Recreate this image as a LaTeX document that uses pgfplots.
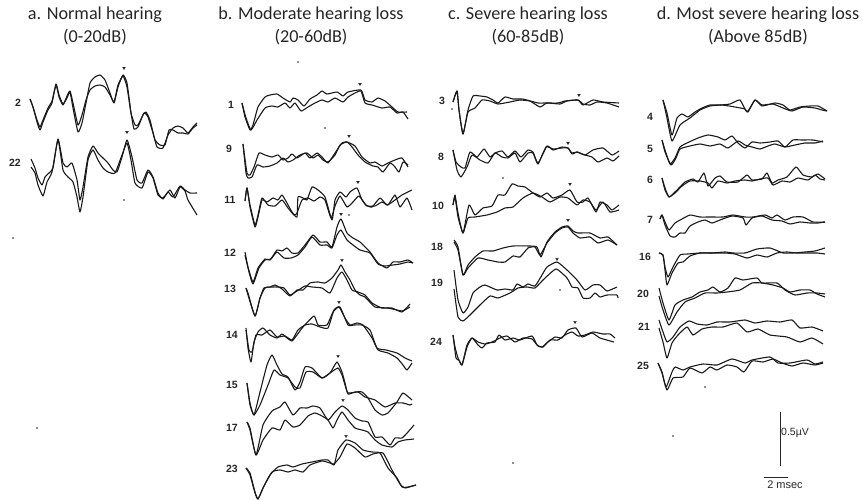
\documentclass[border=0pt]{standalone}
\usepackage{pgfplots}
\pgfplotsset{compat=1.18}
\usepackage{fontspec}
\setmainfont{Carlito}
\newfontfamily\numfont{Liberation Sans}
\tikzset{
  head/.style={font=\fontsize{18.2}{20}\selectfont, text=black!85},
  num/.style={font=\numfont\fontsize{10.5}{12}\selectfont\bfseries, text=black!85},
}
\pgfplotsset{
  trace/.style={black!90, line width=1.1pt, line join=round, no markers, smooth, tension=0.3},
}
\newcommand{\tr}[1]{\addplot[trace] coordinates {#1};}
\begin{document}
\begin{tikzpicture}
\path[use as bounding box] (0,0) rectangle (863pt,500pt);
\begin{axis}[at={(0,0)}, anchor=south west, scale only axis, width=863pt, height=500pt,
  xmin=0, xmax=863, ymin=0, ymax=500, y dir=reverse, hide axis, clip=true]
% a. normal
\tr{(30,99)(33,107)(37,122)(40,130)(43,122)(48,110)(52,103)(56,84)(59,95)(63,104)(67,98)(70,92)(73,108)(78,132)(82,123)(86,103)(90,83)(95,77)(100,75)(105,80)(110,93)(114,103)(118,87)(123,75)(127,83)(131,113)(134,129)(138,127)(144,113)(148,117)(153,133)(157,147)(163,148)(168,135)(173,128)(178,126)(183,128)(188,133)(193,127)(197,123)}
\tr{(30,99)(33,107)(37,120)(40,127)(43,120)(48,108)(52,101)(56,85)(59,97)(63,105)(67,96)(70,91)(73,103)(78,125)(82,115)(86,100)(90,90)(95,86)(100,85)(105,87)(110,95)(114,102)(118,85)(123,76)(127,87)(131,113)(135,125)(138,125)(143,115)(146,112)(150,120)(155,140)(160,145)(165,145)(169,130)(173,130)(178,133)(183,133)(188,134)(193,128)(197,125)}
\tr{(31,159)(35,168)(38,178)(42,185)(45,177)(49,173)(53,168)(58,139)(63,163)(67,167)(72,163)(77,180)(80,200)(83,187)(88,157)(93,146)(98,153)(103,158)(108,163)(113,170)(117,172)(122,157)(127,140)(132,157)(137,180)(142,183)(148,170)(153,177)(158,193)(163,199)(168,192)(173,197)(180,186)(185,190)(190,193)(197,193)}
\tr{(31,167)(35,173)(38,185)(43,196)(47,182)(52,172)(58,140)(63,170)(68,177)(73,182)(77,197)(80,212)(83,197)(88,160)(93,150)(98,160)(103,168)(108,172)(115,173)(122,155)(127,143)(131,160)(135,183)(142,188)(148,172)(153,178)(158,195)(163,198)(170,190)(175,198)(180,187)(185,191)(188,200)(197,215)}
\addplot[only marks, mark=triangle*, mark size=1.5pt, mark options={rotate=180, black!85, fill=black!85}] coordinates {(124,68)(127,132)(360,84)(349,136)(358,182)(341,214)(342,260)(339,302)(338,356)(343,400)(346,436)(579,95)(568,143)(570,184)(568,220)(557,259)(575,322)};
\addplot[only marks, mark=*, mark size=0.6pt, mark options={black!70}] coordinates {(124,200)(13,238)(298,62)(325,128)(349,215)(452,109)(503,178)(560,290)(705,387)(673,436)(513,463)(37,428)};
% b. moderate
\tr{(242,103)(245,117)(250,130)(253,125)(258,107)(265,97)(270,95)(277,94)(283,98)(290,102)(293,98)(298,100)(304,106)(310,99)(317,95)(322,91)(327,94)(337,92)(343,96)(348,92)(361,90)(365,100)(372,102)(378,98)(385,101)(392,107)(398,112)(407,112)}
\tr{(242,103)(246,118)(251,130)(257,120)(265,108)(272,106)(278,107)(285,103)(290,108)(295,103)(301,111)(308,107)(315,103)(322,100)(328,102)(335,98)(343,102)(348,97)(355,93)(361,91)(365,103)(372,105)(382,108)(390,107)(397,113)(403,112)(408,119)}
\tr{(243,144)(247,173)(250,175)(254,167)(259,153)(265,155)(272,157)(278,155)(283,160)(288,158)(292,154)(297,158)(305,153)(310,158)(317,153)(322,157)(328,163)(335,153)(342,143)(347,142)(355,146)(362,157)(370,163)(375,162)(382,166)(388,163)(395,160)(402,158)(408,167)}
\tr{(243,144)(246,173)(248,178)(252,177)(257,165)(263,167)(270,166)(277,163)(283,158)(288,162)(293,160)(300,155)(307,153)(313,158)(318,155)(323,160)(328,162)(335,155)(340,145)(347,142)(352,147)(358,155)(365,162)(373,166)(378,167)(383,172)(390,163)(395,167)(399,172)(403,162)(408,165)}
\tr{(245,201)(247,188)(250,207)(255,227)(258,217)(262,200)(267,202)(273,198)(278,200)(282,195)(287,203)(292,212)(297,217)(298,197)(303,198)(307,200)(312,187)(318,190)(325,197)(332,220)(335,200)(340,192)(346,197)(350,192)(357,188)(362,200)(367,206)(375,206)(382,202)(388,205)(395,195)(400,207)(407,198)(412,210)}
\tr{(245,201)(247,188)(250,205)(255,225)(258,215)(262,198)(268,205)(275,206)(282,200)(288,208)(294,215)(297,213)(302,200)(308,198)(314,201)(320,197)(325,200)(331,218)(335,206)(340,196)(347,207)(353,202)(359,196)(366,205)(372,207)(380,198)(387,205)(395,200)(402,195)(412,190)}
\tr{(245,252)(248,267)(253,282)(258,268)(265,259)(270,260)(277,250)(282,251)(287,248)(292,253)(298,253)(305,245)(313,235)(320,242)(327,242)(332,247)(337,227)(341,219)(347,233)(353,238)(360,242)(370,252)(378,263)(387,268)(393,262)(400,262)(408,260)(413,263)}
\tr{(245,255)(249,272)(253,284)(259,268)(265,260)(271,259)(277,252)(284,258)(291,258)(298,255)(305,247)(312,237)(320,245)(327,245)(332,248)(337,235)(341,230)(347,240)(353,245)(360,250)(370,253)(378,264)(385,266)(393,265)(400,264)(408,262)(413,263)}
\tr{(246,288)(248,293)(255,316)(260,298)(264,288)(270,287)(275,285)(282,289)(290,296)(297,290)(303,290)(310,283)(318,282)(325,283)(332,278)(338,270)(341,265)(345,272)(350,280)(355,290)(360,295)(365,297)(375,307)(388,308)(402,311)(410,307)}
\tr{(246,288)(248,295)(255,316)(260,298)(265,288)(272,287)(278,287)(284,288)(290,295)(297,291)(305,286)(312,287)(322,288)(330,293)(337,278)(342,272)(347,280)(352,290)(358,292)(365,295)(372,303)(382,308)(392,308)(402,312)(410,304)}
\tr{(246,328)(248,348)(251,362)(254,342)(258,332)(263,328)(270,335)(277,338)(282,334)(287,338)(292,341)(297,335)(303,327)(314,316)(318,325)(327,325)(333,312)(339,307)(345,318)(350,325)(357,323)(363,325)(372,338)(378,350)(388,353)(397,358)(403,365)(407,370)(412,363)}
\tr{(246,330)(249,350)(252,352)(256,335)(262,335)(270,330)(277,337)(285,336)(292,340)(298,330)(305,325)(312,324)(320,327)(328,328)(334,310)(340,307)(348,325)(354,325)(362,325)(370,330)(377,348)(386,350)(397,353)(405,358)(412,361)}
\tr{(247,383)(250,403)(254,415)(260,392)(267,365)(272,355)(277,365)(282,374)(288,377)(295,390)(300,382)(305,367)(312,368)(322,378)(330,373)(337,362)(342,372)(345,383)(348,394)(355,392)(362,392)(368,398)(375,410)(382,415)(388,413)(397,402)(403,393)(412,400)}
\tr{(247,383)(250,405)(254,415)(260,405)(268,385)(274,370)(280,375)(288,378)(295,387)(300,388)(306,372)(313,372)(322,378)(330,373)(338,368)(342,375)(345,385)(348,393)(358,392)(365,397)(375,400)(385,407)(395,403)(403,403)(410,405)(412,404)}
\tr{(247,422)(250,428)(256,455)(263,425)(272,411)(280,407)(285,402)(293,415)(300,408)(307,408)(313,406)(320,408)(328,420)(335,412)(342,406)(348,410)(355,418)(362,421)(368,422)(375,437)(382,437)(390,445)(395,438)(402,438)(408,432)(414,425)}
\tr{(247,422)(250,430)(256,455)(263,440)(272,428)(280,430)(285,420)(293,427)(300,425)(308,416)(315,413)(322,416)(328,420)(333,428)(337,420)(342,412)(348,420)(355,428)(362,430)(368,432)(375,440)(382,445)(392,447)(398,442)(405,440)(414,439)}
\tr{(246,468)(250,473)(255,492)(258,499)(263,488)(270,475)(278,467)(287,465)(293,467)(302,464)(312,462)(322,460)(328,460)(334,465)(338,450)(346,440)(355,443)(363,450)(372,452)(380,453)(388,468)(397,478)(402,487)(408,487)(416,485)}
\tr{(246,468)(250,475)(255,493)(258,499)(264,486)(272,472)(280,470)(288,472)(295,470)(303,472)(310,465)(322,461)(330,463)(334,464)(340,457)(347,444)(355,448)(365,457)(373,454)(383,453)(392,470)(400,484)(405,488)(416,485)}
% c. severe
\tr{(453,102)(457,91)(459,110)(463,134)(468,110)(473,96)(480,96)(487,97)(493,100)(498,103)(505,97)(513,99)(522,99)(530,101)(540,107)(547,103)(560,104)(567,101)(578,100)(583,105)(593,100)(603,102)(619,103)}
\tr{(453,102)(457,91)(459,110)(463,134)(468,112)(475,108)(482,100)(490,101)(498,104)(510,102)(520,100)(530,101)(538,103)(547,103)(558,103)(565,101)(578,100)(583,104)(590,105)(597,102)(607,103)(619,107)}
\tr{(453,150)(456,162)(461,167)(465,168)(470,152)(477,157)(484,149)(490,157)(495,153)(502,151)(508,157)(515,151)(521,157)(528,150)(533,152)(538,163)(547,146)(553,150)(562,147)(568,148)(572,153)(577,152)(585,155)(593,150)(603,148)(612,155)(619,151)}
\tr{(453,150)(457,170)(461,177)(467,167)(472,155)(480,160)(488,163)(495,153)(502,157)(508,158)(515,153)(520,162)(528,153)(533,153)(538,164)(546,147)(553,149)(562,148)(568,148)(572,154)(577,152)(585,155)(592,157)(598,162)(607,158)(613,161)(619,156)}
\tr{(453,205)(455,195)(458,213)(463,233)(469,205)(475,215)(483,208)(492,206)(498,195)(505,195)(512,184)(518,186)(525,187)(533,193)(540,197)(547,193)(553,198)(562,195)(570,190)(577,202)(583,202)(588,198)(596,212)(600,202)(607,205)(612,210)(619,205)}
\tr{(453,205)(455,197)(458,217)(463,233)(468,218)(475,217)(487,215)(497,212)(505,208)(513,207)(523,198)(533,193)(542,197)(550,202)(560,197)(568,198)(577,205)(583,200)(590,202)(596,210)(603,202)(610,212)(619,210)}
\tr{(454,240)(458,247)(463,275)(468,265)(475,257)(483,251)(493,251)(503,248)(513,246)(530,246)(537,247)(541,257)(547,242)(555,232)(562,227)(568,226)(573,231)(578,233)(590,233)(600,238)(608,237)(617,245)}
\tr{(454,242)(458,250)(463,275)(468,268)(478,258)(488,260)(498,262)(505,262)(513,256)(520,257)(528,248)(535,247)(540,255)(547,243)(555,233)(562,228)(568,227)(573,233)(580,238)(590,237)(598,243)(608,240)(617,245)}
\tr{(454,270)(458,300)(463,313)(468,307)(473,293)(480,287)(485,285)(497,290)(505,289)(513,290)(517,284)(523,287)(528,284)(535,286)(542,275)(547,267)(557,262)(567,270)(577,280)(585,290)(593,285)(600,285)(607,291)(617,287)}
\tr{(454,289)(458,317)(463,321)(470,315)(480,305)(490,296)(498,298)(510,293)(518,288)(527,287)(535,288)(543,280)(556,269)(567,278)(572,287)(578,288)(583,298)(590,298)(595,293)(600,297)(607,295)(617,295)(618,298)}
\tr{(453,335)(455,347)(458,358)(462,365)(467,347)(472,338)(478,345)(482,348)(487,343)(495,342)(499,335)(505,340)(513,338)(520,340)(532,336)(537,345)(542,347)(548,342)(555,337)(562,338)(568,330)(576,328)(582,337)(592,333)(600,338)(614,342)}
\tr{(453,335)(456,358)(459,360)(462,365)(467,345)(472,338)(478,342)(485,344)(492,342)(500,338)(507,336)(515,342)(523,338)(532,339)(538,346)(543,347)(550,340)(558,340)(565,335)(572,332)(578,336)(585,335)(593,332)(603,334)(610,334)(615,338)}
% d. most severe
\tr{(663,100)(667,113)(672,135)(677,118)(682,114)(688,117)(695,112)(702,108)(710,105)(720,105)(730,104)(740,100)(747,112)(755,100)(762,106)(775,103)(783,105)(790,110)(800,107)(810,106)(818,106)(827,111)}
\tr{(663,100)(667,118)(672,141)(680,125)(690,118)(700,110)(710,106)(722,105)(735,107)(745,109)(748,112)(755,100)(762,105)(773,104)(783,108)(792,111)(803,107)(815,108)(822,110)(827,111)}
\tr{(662,140)(665,150)(670,164)(675,158)(680,147)(687,143)(698,138)(708,135)(718,137)(725,140)(732,136)(738,143)(745,148)(752,142)(760,143)(770,142)(778,141)(785,147)(793,140)(802,140)(813,140)(823,142)}
\tr{(662,140)(665,152)(671,165)(676,158)(680,149)(690,146)(700,144)(710,146)(720,144)(728,148)(738,141)(745,145)(752,147)(760,149)(768,146)(775,144)(785,147)(795,145)(805,143)(815,143)(823,141)}
\tr{(662,178)(665,188)(669,197)(675,192)(680,187)(685,182)(693,179)(698,182)(704,173)(708,186)(715,178)(720,176)(727,182)(738,182)(747,175)(752,180)(762,179)(767,173)(772,183)(778,180)(787,177)(796,167)(803,175)(812,177)(818,174)(825,179)}
\tr{(662,178)(665,190)(669,197)(675,193)(682,186)(690,181)(700,181)(708,183)(712,188)(718,181)(727,183)(735,181)(745,180)(752,181)(760,179)(768,178)(773,185)(782,181)(790,182)(798,178)(808,180)(815,175)(820,179)(825,180)}
\tr{(660,219)(662,215)(665,222)(669,230)(675,223)(682,219)(690,215)(700,217)(710,217)(723,217)(733,215)(745,217)(753,217)(765,215)(772,218)(777,215)(785,220)(793,217)(803,217)(813,222)(825,222)}
\tr{(660,219)(662,215)(665,225)(670,236)(675,237)(680,233)(685,233)(690,226)(698,222)(705,220)(712,223)(720,220)(732,216)(743,218)(746,225)(752,218)(762,216)(772,220)(782,221)(790,224)(800,222)(810,223)(818,223)(825,222)}
\tr{(659,253)(663,255)(665,267)(668,277)(673,267)(680,255)(688,254)(700,253)(712,253)(725,252)(733,253)(745,253)(757,249)(770,248)(783,253)(793,253)(805,252)(815,251)(825,248)}
\tr{(659,253)(663,255)(665,270)(667,285)(672,273)(678,263)(683,262)(690,256)(700,253)(712,253)(725,253)(735,254)(747,258)(757,255)(767,257)(777,253)(787,252)(797,253)(808,253)(817,253)(825,254)}
\tr{(659,288)(663,303)(669,320)(675,305)(683,300)(692,297)(700,292)(708,290)(713,287)(720,292)(728,288)(735,278)(743,280)(757,278)(762,283)(777,283)(785,290)(795,295)(807,293)(817,293)(825,294)}
\tr{(659,296)(663,310)(669,325)(677,312)(685,302)(695,298)(705,293)(717,293)(727,292)(740,290)(752,283)(762,283)(773,285)(783,288)(790,292)(800,290)(810,290)(817,294)(825,297)}
\tr{(659,320)(663,332)(667,342)(673,337)(680,327)(689,321)(697,324)(707,325)(717,322)(730,322)(745,320)(755,323)(767,321)(780,322)(792,320)(800,328)(812,327)(823,331)}
\tr{(659,328)(663,342)(667,358)(672,343)(678,335)(687,327)(693,335)(702,329)(712,327)(723,327)(737,323)(747,332)(758,329)(770,335)(787,337)(800,342)(812,338)(823,344)}
\tr{(658,363)(662,372)(666,387)(672,372)(675,367)(683,370)(690,367)(703,364)(717,365)(732,359)(745,363)(752,360)(770,357)(778,363)(790,363)(807,360)(815,364)(823,362)}
\tr{(658,363)(662,373)(667,390)(673,378)(683,377)(690,368)(702,373)(710,367)(717,370)(727,365)(737,367)(744,372)(752,361)(763,362)(773,359)(782,363)(792,366)(803,363)(815,365)(823,363)}
% scale bars
\addplot[black!85, line width=1pt] coordinates {(780,412)(780,466)};
\addplot[black!85, line width=1pt] coordinates {(764,477)(788,477)};
% titles
\node[head] at (axis cs:95,15) {a. Normal hearing};
\node[head] at (axis cs:95,37) {(0-20dB)};
\node[head] at (axis cs:311,15) {b. Moderate hearing loss};
\node[head] at (axis cs:311,37) {(20-60dB)};
\node[head] at (axis cs:528,15) {c. Severe hearing loss};
\node[head] at (axis cs:528,37) {(60-85dB)};
\node[head] at (axis cs:758,15) {d. Most severe hearing loss};
\node[head] at (axis cs:758,37) {(Above 85dB)};
% case numbers
\node[num] at (axis cs:18,103) {2};
\node[num] at (axis cs:15,163) {22};
\node[num] at (axis cs:231,105) {1};
\node[num] at (axis cs:229,149) {9};
\node[num] at (axis cs:230,200) {11};
\node[num] at (axis cs:230,253) {12};
\node[num] at (axis cs:230,289) {13};
\node[num] at (axis cs:232,335) {14};
\node[num] at (axis cs:232,385) {15};
\node[num] at (axis cs:232,428) {17};
\node[num] at (axis cs:232,469) {23};
\node[num] at (axis cs:442,101) {3};
\node[num] at (axis cs:441,157) {8};
\node[num] at (axis cs:438,206) {10};
\node[num] at (axis cs:437,247) {18};
\node[num] at (axis cs:437,283) {19};
\node[num] at (axis cs:436,342) {24};
\node[num] at (axis cs:650,117) {4};
\node[num] at (axis cs:650,149) {5};
\node[num] at (axis cs:650,180) {6};
\node[num] at (axis cs:650,220) {7};
\node[num] at (axis cs:645,257) {16};
\node[num] at (axis cs:643,294) {20};
\node[num] at (axis cs:644,327) {21};
\node[num] at (axis cs:643,366) {25};
\node[font=\numfont\fontsize{10.5}{12}\selectfont, text=black!85] at (axis cs:795,433) {0.5µV};
\node[font=\numfont\fontsize{11}{12}\selectfont, text=black!85] at (axis cs:785,485) {2 msec};
\end{axis}
\end{tikzpicture}
\end{document}
